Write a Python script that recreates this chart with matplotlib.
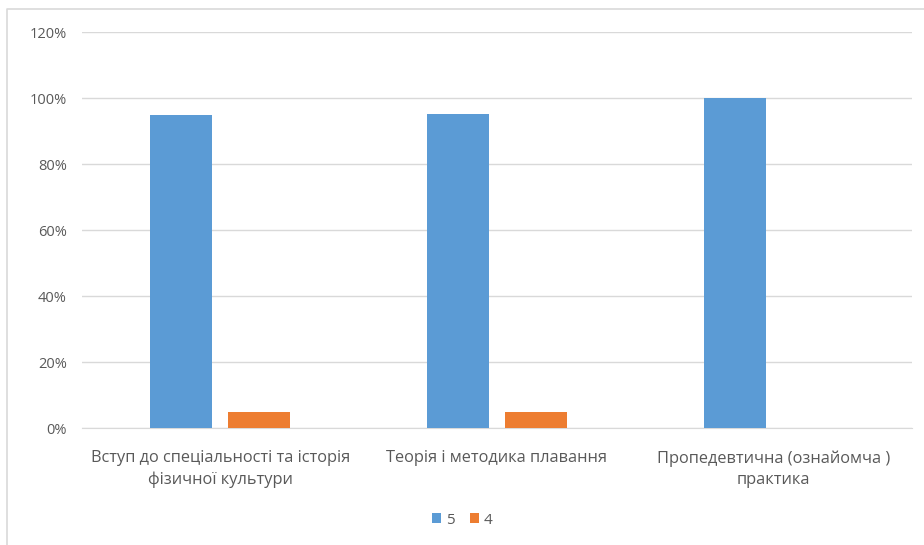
import numpy as np
import matplotlib.pyplot as plt
from matplotlib.lines import Line2D

plt.rcParams['font.family'] = ['Open Sans', 'DejaVu Sans']

categories = ['Вступ до спеціальності та історія\nфізичної культури',
              'Теорія і методика плавання',
              'Пропедевтична (ознайомча )\nпрактика']
series_names = ['5', '4']
vals_5 = [0.948, 0.953, 1.0]
vals_4 = [0.047, 0.047, 0.0]
yticks = [0, 0.2, 0.4, 0.6, 0.8, 1.0, 1.2]

blue = '#5B9BD5'
orange = '#ED7D31'
txt = '#595959'

fig = plt.figure(figsize=(9.24, 5.45), dpi=100)
ax = fig.add_axes([82/924, 1-428/545, 830/924, 396/545])

x = np.arange(len(categories))
w = 0.224
off = 0.141
ax.bar(x - off, vals_5, w, color=blue, label=series_names[0], zorder=3)
ax.bar(x + off, vals_4, w, color=orange, label=series_names[1], zorder=3)

ax.set_xlim(-0.5, 2.5)
ax.set_ylim(0, 1.2)
ax.set_yticks(yticks)
ax.set_yticklabels([f'{int(round(v*100))}%' for v in yticks], color=txt, fontsize=10.5)
ax.set_xticks(x)
ax.set_xticklabels(categories, color=txt, fontsize=11.8, linespacing=1.4)
ax.tick_params(length=0)
ax.tick_params(axis='y', pad=11)
ax.tick_params(axis='x', pad=16)
ax.grid(axis='y', color='#D9D9D9', linewidth=1, zorder=0)
for s in ['top', 'right', 'left']:
    ax.spines[s].set_visible(False)
ax.spines['bottom'].set_color('#D9D9D9')

leg = fig.legend(loc='center', bbox_to_anchor=(0.5, 1-520/545), ncol=2, frameon=False,
                 handlelength=0.6, handleheight=0.6, handletextpad=0.3, columnspacing=1.0,
                 fontsize=11)
for t in leg.get_texts():
    t.set_color(txt)

# chart frame (left and top edges)
fig.add_artist(Line2D([7/924, 7/924, 1.0], [0, 1-9/545, 1-9/545], transform=fig.transFigure,
                      color='#D9D9D9', linewidth=1.2))

fig.savefig('out.png', dpi=100)
